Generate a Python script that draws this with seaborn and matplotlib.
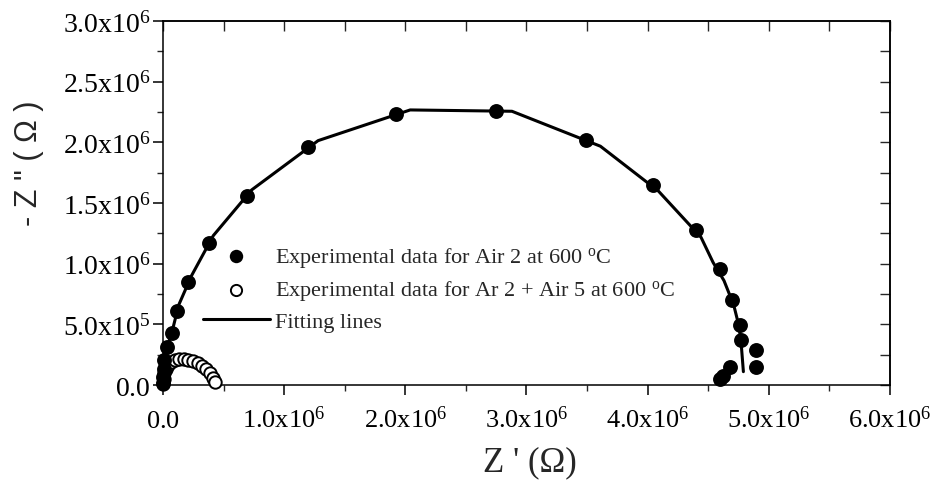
import numpy as np
import pandas as pd
import matplotlib
matplotlib.use("Agg")
import matplotlib.pyplot as plt
import seaborn as sns
from matplotlib.ticker import FixedLocator, MultipleLocator

# Impedance spectra in MΩ (Z' real part, -Z'' imaginary part)
air_zre = [0.00, 0.003, 0.006, 0.012, 0.035, 0.072, 0.113, 0.209, 0.38, 0.69,
           1.20, 1.92, 2.746, 3.49, 4.04, 4.40, 4.60, 4.70, 4.76, 4.77,
           4.89, 4.89, 4.68, 4.62, 4.60]
air_zim = [0.02, 0.07, 0.13, 0.21, 0.31, 0.43, 0.61, 0.85, 1.17, 1.56,
           1.965, 2.234, 2.256, 2.02, 1.65, 1.278, 0.956, 0.70, 0.497, 0.373,
           0.291, 0.146, 0.151, 0.077, 0.05]

air_fit_zre = [0.0, 0.005, 0.015, 0.03, 0.05, 0.085, 0.13, 0.235, 0.415, 0.732,
               1.28, 2.04, 2.88, 3.61, 4.09, 4.44, 4.54, 4.63, 4.71, 4.755,
               4.775, 4.79]
air_fit_zim = [0.0, 0.08, 0.17, 0.26, 0.36, 0.48, 0.66, 0.90, 1.231, 1.608,
               2.014, 2.267, 2.256, 1.968, 1.597, 1.218, 1.01, 0.86, 0.66, 0.48,
               0.30, 0.11]

ar_zre = [0.0, 0.005, 0.012, 0.025, 0.045, 0.07, 0.10, 0.135, 0.17, 0.205,
          0.245, 0.285, 0.32, 0.355, 0.385, 0.41, 0.43]
ar_zim = [0.01, 0.05, 0.095, 0.135, 0.165, 0.19, 0.205, 0.214, 0.215, 0.21,
          0.20, 0.183, 0.16, 0.13, 0.095, 0.055, 0.025]

ar_fit_zre = [0.0, 0.01, 0.03, 0.06, 0.10, 0.15, 0.20, 0.25, 0.30, 0.345,
              0.38, 0.405, 0.42, 0.43]
ar_fit_zim = [0.0, 0.08, 0.14, 0.18, 0.205, 0.215, 0.212, 0.198, 0.172, 0.135,
              0.095, 0.055, 0.025, 0.0]

series_labels = [
    r"Experimental data for Air 2 at 600 $^{\mathregular{o}}$C",
    r"Experimental data for Ar 2 + Air 5 at 600 $^{\mathregular{o}}$C",
    "Fitting lines",
]

x_ticks = [0, 1e6, 2e6, 3e6, 4e6, 5e6, 6e6]
x_tick_labels = [r"$\mathregular{0.0}$", r"$\mathregular{1.0x10^{6}}$",
                 r"$\mathregular{2.0x10^{6}}$", r"$\mathregular{3.0x10^{6}}$",
                 r"$\mathregular{4.0x10^{6}}$", r"$\mathregular{5.0x10^{6}}$",
                 r"$\mathregular{6.0x10^{6}}$"]
y_ticks = [0, 0.5e6, 1.0e6, 1.5e6, 2.0e6, 2.5e6, 3.0e6]
y_tick_labels = [r"$\mathregular{0.0}$", r"$\mathregular{5.0x10^{5}}$",
                 r"$\mathregular{1.0x10^{6}}$", r"$\mathregular{1.5x10^{6}}$",
                 r"$\mathregular{2.0x10^{6}}$", r"$\mathregular{2.5x10^{6}}$",
                 r"$\mathregular{3.0x10^{6}}$"]

MOHM = 1e6
air = pd.DataFrame({"zre": np.array(air_zre) * MOHM, "zim": np.array(air_zim) * MOHM})
air_fit = pd.DataFrame({"zre": np.array(air_fit_zre) * MOHM, "zim": np.array(air_fit_zim) * MOHM})
ar = pd.DataFrame({"zre": np.array(ar_zre) * MOHM, "zim": np.array(ar_zim) * MOHM})
ar_fit = pd.DataFrame({"zre": np.array(ar_fit_zre) * MOHM, "zim": np.array(ar_fit_zim) * MOHM})

sns.set_theme(style="ticks")
plt.rcParams["font.family"] = ["Liberation Serif", "DejaVu Serif"]
plt.rcParams["mathtext.fontset"] = "custom"
plt.rcParams["mathtext.rm"] = "Liberation Serif"
plt.rcParams["mathtext.it"] = "Liberation Serif:italic"
plt.rcParams["axes.linewidth"] = 1.1
plt.rcParams["axes.edgecolor"] = "black"

fig = plt.figure(figsize=(9.37, 4.81), dpi=100)
ax = fig.add_axes([163 / 937, 1 - 386 / 481, 727 / 937, 364 / 481])

sns.lineplot(data=air_fit, x="zre", y="zim", sort=False, estimator=None,
             color="black", linewidth=2.2, ax=ax, label=series_labels[2], zorder=2)
sns.lineplot(data=ar_fit, x="zre", y="zim", sort=False, estimator=None,
             color="black", linewidth=2.0, ax=ax, zorder=2)
sns.scatterplot(data=air, x="zre", y="zim", color="black", s=115,
                edgecolor="black", linewidth=0, ax=ax, label=series_labels[0],
                zorder=4, clip_on=False)
sns.scatterplot(data=ar, x="zre", y="zim", facecolor="white", s=80,
                edgecolor="black", linewidth=1.4, ax=ax, label=series_labels[1],
                zorder=3, clip_on=False)

ax.set_xlim(0, 6e6)
ax.set_ylim(0, 3e6)

ax.xaxis.set_major_locator(FixedLocator(x_ticks))
ax.set_xticklabels(x_tick_labels)
ax.xaxis.set_minor_locator(MultipleLocator(0.5e6))
ax.yaxis.set_major_locator(FixedLocator(y_ticks))
ax.set_yticklabels(y_tick_labels)
ax.yaxis.set_minor_locator(MultipleLocator(0.25e6))

ax.tick_params(axis="both", which="major", direction="out", length=7, width=1.1,
               colors="black")
ax.tick_params(axis="x", which="major", pad=23, labelsize=19)
ax.tick_params(axis="y", which="major", pad=2, labelsize=20)
ax.tick_params(axis="both", which="minor", direction="out", length=4, width=1.0)
for lbl in ax.get_xticklabels():
    lbl.set_verticalalignment("baseline")
for lbl in ax.get_yticklabels():
    lbl.set_verticalalignment("center_baseline")

# Mirrored top and right axes with inward ticks
top = ax.secondary_xaxis("top")
top.xaxis.set_major_locator(MultipleLocator(0.5e6))
top.tick_params(direction="in", length=7, width=1.0, labeltop=False)
right = ax.secondary_yaxis("right")
right.yaxis.set_major_locator(MultipleLocator(0.25e6))
right.tick_params(direction="in", length=7, width=1.0, labelright=False)

for side in ["top", "right", "left", "bottom"]:
    ax.spines[side].set_visible(True)

ax.set_xlabel("Z ' (Ω)", fontsize=25, family=["Liberation Serif"])
ax.xaxis.set_label_coords(0.505, -0.165)
ax.set_ylabel('- Z " ( Ω )', fontsize=22, family=["Liberation Sans"])
ax.yaxis.set_label_coords(-0.163, 0.611)

handles, labels = ax.get_legend_handles_labels()
order = [labels.index(l) for l in series_labels]
ax.legend([handles[i] for i in order], [labels[i] for i in order],
          loc="upper left", bbox_to_anchor=(203 / 937, 1 - 246 / 481),
          bbox_transform=fig.transFigure, frameon=False, fontsize=16,
          handlelength=3.0, handletextpad=0.25, labelspacing=0.42,
          borderpad=0, borderaxespad=0, markerscale=0.9)

fig.savefig("out.png", dpi=100)
